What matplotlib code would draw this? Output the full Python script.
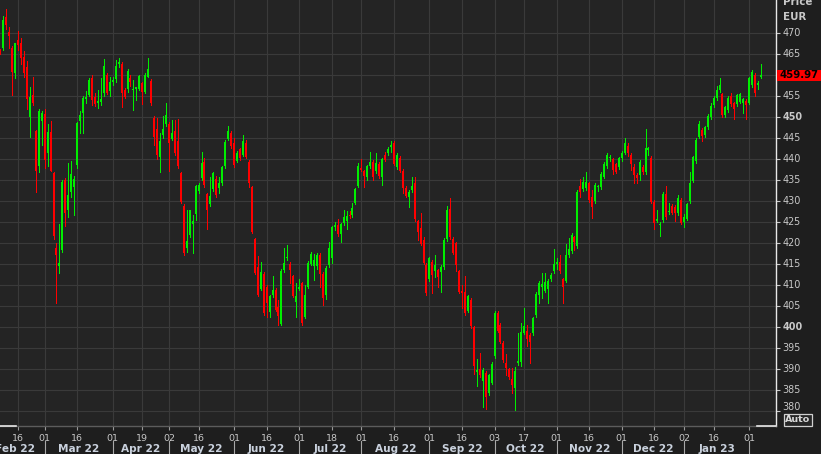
import numpy as np
import pandas as pd
import matplotlib
matplotlib.use('Agg')
import matplotlib.pyplot as plt
from matplotlib import transforms as mtransforms
from matplotlib.patches import Rectangle

# ---------------- data ----------------
start_date = '2022-02-08'
end_date = '2023-02-07'
holidays = ['2022-04-15', '2022-04-18', '2022-12-26']

open_ = [465.7, 466.6, 474.0, 470.2, 466.6, 460.6, 468.4, 467.6, 464.4, 461.9,
         450.0, 455.3, 446.7, 438.4, 449.2, 450.9, 441.4, 446.6, 436.7, 419.0,
         414.7, 418.4, 435.1, 427.9, 432.1, 433.5, 438.7, 449.2, 451.0, 454.4,
         455.2, 459.4, 454.8, 453.5, 453.7, 455.7, 460.1, 456.3, 458.5, 459.1,
         462.6, 462.7, 456.5, 456.7, 459.4, 456.5, 456.8, 456.7, 458.1, 456.1,
         459.7, 458.7, 449.9, 447.2, 440.6, 445.8, 448.4, 448.4, 444.9, 446.7,
         444.4, 436.7, 428.9, 418.8, 422.0, 424.6, 427.0, 432.5, 435.5, 439.4,
         431.7, 429.4, 432.9, 435.2, 433.1, 434.4, 438.4, 444.8, 446.3, 444.0,
         439.7, 442.4, 441.0, 443.9, 439.4, 433.3, 421.0, 414.4, 409.2, 412.8,
         409.7, 403.7, 407.7, 409.0, 404.9, 400.9, 413.6, 416.4, 415.1, 412.2,
         406.1, 409.2, 410.5, 402.5, 409.7, 415.1, 414.6, 414.5, 417.2, 412.8,
         407.7, 414.8, 416.4, 423.8, 424.4, 422.2, 424.8, 425.2, 426.6, 426.7,
         429.7, 433.7, 438.0, 437.1, 435.7, 438.3, 439.4, 437.1, 439.0, 435.9,
         441.0, 441.4, 443.0, 443.8, 438.2, 440.4, 437.2, 433.2, 431.1, 432.7,
         434.3, 425.2, 423.6, 420.8, 414.8, 411.4, 415.6, 413.5, 413.6, 413.2,
         414.4, 421.0, 428.2, 421.0, 420.0, 413.3, 408.7, 408.5, 404.0, 406.5,
         400.0, 389.4, 390.0, 387.3, 389.2, 384.3, 386.8, 393.2, 403.5, 400.6,
         396.3, 391.6, 390.0, 387.8, 385.6, 391.5, 391.8, 398.7, 399.2, 398.2,
         398.6, 402.9, 407.7, 409.7, 408.7, 409.1, 411.4, 413.4, 415.1, 415.5,
         411.4, 411.1, 417.2, 418.2, 421.4, 419.4, 433.6, 432.9, 433.1, 434.3,
         431.1, 430.1, 433.3, 433.3, 435.9, 438.4, 440.2, 440.0, 439.0, 438.1,
         440.2, 441.6, 443.2, 441.0, 438.2, 436.3, 436.3, 438.2, 437.0, 442.3,
         440.4, 429.9, 425.4, 424.4, 425.5, 431.7, 427.4, 428.9, 428.7, 427.1,
         430.3, 425.0, 425.9, 430.1, 434.9, 439.7, 445.4, 447.0, 445.8, 447.6,
         450.1, 452.9, 454.5, 456.5, 455.5, 450.5, 451.7, 455.0, 453.3, 453.2,
         453.7, 453.5, 453.9, 453.5, 457.7, 460.1, 457.7, 459.5]

high = [466.2, 474.1, 475.7, 471.5, 467.0, 467.8, 470.6, 469.0, 465.8, 463.5,
        457.3, 459.5, 447.0, 452.0, 451.5, 451.9, 448.5, 449.2, 437.0, 420.0,
        424.6, 435.0, 435.5, 439.2, 439.6, 436.0, 449.0, 451.4, 455.0, 456.3,
        459.4, 460.0, 455.8, 456.6, 459.4, 463.8, 460.5, 459.7, 459.6, 463.6,
        464.1, 463.2, 457.0, 461.4, 460.0, 458.9, 457.1, 460.0, 458.5, 460.5,
        464.1, 459.2, 450.2, 449.8, 446.2, 450.2, 453.5, 449.0, 449.4, 449.4,
        449.5, 437.0, 429.3, 427.9, 428.0, 426.7, 434.0, 434.4, 441.8, 440.2,
        432.0, 435.9, 437.0, 436.0, 435.9, 438.5, 444.5, 447.9, 446.7, 445.0,
        442.0, 442.8, 445.8, 444.7, 439.8, 433.6, 421.3, 416.9, 415.6, 413.2,
        410.0, 407.8, 412.2, 409.3, 406.5, 413.8, 419.0, 419.6, 415.5, 412.5,
        410.5, 411.6, 410.8, 410.0, 415.8, 418.0, 417.4, 417.6, 417.6, 413.1,
        414.5, 420.2, 424.2, 425.0, 425.7, 424.9, 428.0, 427.6, 427.6, 429.5,
        433.2, 439.2, 440.0, 437.5, 438.7, 441.8, 439.8, 441.4, 439.4, 440.3,
        441.8, 443.0, 444.4, 444.4, 441.4, 440.8, 437.6, 433.6, 432.7, 435.7,
        435.7, 425.6, 427.1, 421.6, 415.2, 416.8, 416.0, 417.2, 414.0, 414.8,
        421.2, 428.9, 430.7, 421.4, 420.4, 413.7, 410.0, 412.3, 407.8, 406.9,
        400.3, 392.4, 394.0, 390.4, 389.6, 389.0, 391.8, 403.9, 404.0, 401.0,
        396.7, 393.6, 390.4, 390.2, 390.6, 398.6, 401.0, 404.7, 400.5, 398.6,
        402.5, 408.3, 411.0, 413.0, 413.0, 411.4, 412.9, 418.6, 416.6, 417.2,
        411.8, 419.8, 421.2, 422.4, 421.8, 432.7, 435.2, 435.9, 436.9, 434.7,
        432.7, 434.4, 434.0, 437.0, 439.4, 441.6, 441.0, 440.3, 439.2, 440.6,
        442.0, 445.0, 443.8, 441.4, 439.0, 436.7, 439.8, 438.6, 447.1, 443.0,
        440.8, 430.3, 427.9, 425.0, 432.1, 433.6, 429.7, 429.3, 429.1, 431.5,
        430.7, 427.0, 429.7, 437.0, 440.8, 445.0, 449.1, 447.4, 448.0, 450.7,
        453.5, 455.1, 457.5, 459.3, 455.9, 452.8, 455.1, 455.8, 453.7, 455.5,
        455.9, 454.7, 454.3, 459.7, 461.2, 460.5, 458.6, 462.8]

low = [465.0, 466.0, 471.0, 466.4, 455.3, 459.4, 466.0, 462.6, 459.7, 452.0,
       445.2, 453.0, 432.3, 437.0, 443.3, 438.0, 438.3, 437.1, 421.0, 405.8,
       413.0, 418.0, 424.1, 426.3, 431.0, 426.7, 438.0, 446.3, 446.3, 453.5,
       455.0, 453.0, 452.7, 452.2, 453.0, 455.0, 455.5, 455.0, 457.8, 458.5,
       462.0, 452.5, 454.5, 456.0, 457.5, 451.8, 454.1, 456.5, 453.1, 455.7,
       459.5, 453.0, 443.3, 440.0, 436.9, 445.0, 448.0, 437.1, 444.5, 441.0,
       438.0, 429.5, 417.3, 418.0, 421.5, 417.6, 425.5, 432.0, 435.0, 433.5,
       423.4, 429.0, 432.5, 431.0, 432.0, 434.0, 438.0, 444.5, 442.6, 438.2,
       439.3, 439.8, 440.7, 440.2, 433.5, 422.5, 412.7, 407.5, 408.8, 403.0,
       402.5, 402.5, 407.3, 403.8, 400.5, 400.6, 413.2, 416.0, 410.5, 407.2,
       402.5, 408.8, 400.5, 402.2, 409.3, 414.8, 411.3, 414.0, 409.7, 405.3,
       406.7, 414.4, 415.2, 423.2, 421.8, 420.2, 424.4, 423.3, 426.0, 426.3,
       429.3, 433.3, 437.3, 433.5, 435.0, 438.0, 435.0, 436.8, 435.6, 433.9,
       439.5, 441.0, 441.8, 438.6, 437.6, 437.0, 431.9, 431.0, 428.6, 432.3,
       425.4, 420.8, 419.5, 415.0, 407.8, 411.0, 408.2, 412.0, 409.7, 408.5,
       414.0, 420.6, 421.0, 417.4, 413.3, 408.2, 404.6, 403.0, 403.6, 399.8,
       389.0, 386.0, 388.2, 381.1, 380.5, 383.9, 386.4, 392.8, 398.8, 396.2,
       391.7, 388.6, 387.7, 384.3, 380.3, 391.0, 390.8, 398.3, 395.5, 391.4,
       398.2, 402.5, 405.9, 406.9, 408.3, 405.9, 411.0, 413.0, 414.0, 413.0,
       405.9, 410.7, 416.8, 417.8, 418.4, 419.0, 431.0, 432.5, 432.7, 429.8,
       426.0, 429.5, 432.5, 433.0, 435.5, 438.0, 439.6, 436.6, 436.7, 437.7,
       439.5, 441.2, 440.9, 437.4, 434.4, 434.3, 435.0, 436.6, 436.6, 441.0,
       429.5, 423.3, 425.0, 421.7, 425.1, 425.9, 427.0, 426.9, 425.4, 426.7,
       424.5, 424.0, 425.5, 429.7, 434.5, 439.1, 445.0, 444.4, 445.4, 447.2,
       449.7, 452.5, 454.1, 456.1, 450.1, 450.1, 451.3, 452.8, 449.7, 452.8,
       453.3, 451.1, 449.7, 453.1, 457.3, 455.0, 456.7, 459.3]

close = [465.3, 473.2, 472.0, 469.4, 460.9, 467.6, 467.2, 464.2, 460.6, 454.4,
         454.9, 453.5, 437.1, 451.5, 451.1, 439.9, 446.6, 437.3, 421.8, 417.2,
         415.4, 434.6, 427.3, 431.5, 436.5, 435.3, 448.6, 450.6, 454.6, 454.9,
         458.9, 454.1, 453.2, 453.9, 454.4, 462.2, 455.9, 458.5, 459.0, 462.3,
         463.2, 455.9, 454.9, 461.1, 458.3, 456.7, 457.0, 459.8, 456.1, 460.1,
         461.4, 453.3, 445.2, 441.0, 444.4, 447.3, 450.5, 443.8, 446.3, 441.4,
         438.3, 429.9, 417.6, 420.6, 427.9, 425.2, 433.7, 433.9, 439.2, 433.9,
         427.9, 431.3, 436.7, 431.5, 434.4, 438.1, 444.1, 446.7, 443.2, 438.6,
         441.6, 440.2, 444.4, 440.5, 434.4, 422.8, 412.9, 407.7, 413.2, 403.3,
         405.7, 407.4, 408.9, 404.1, 402.7, 413.4, 415.4, 416.8, 413.6, 407.5,
         407.5, 409.7, 401.0, 407.7, 415.4, 417.4, 416.0, 417.3, 412.8, 406.9,
         414.2, 419.0, 423.8, 424.4, 422.2, 424.6, 426.2, 426.5, 426.4, 428.3,
         432.9, 438.4, 437.5, 436.0, 438.4, 439.4, 435.7, 439.2, 436.0, 440.0,
         439.8, 442.4, 443.2, 439.0, 441.0, 437.3, 433.1, 431.3, 432.3, 433.6,
         425.7, 422.8, 419.8, 415.4, 408.1, 416.4, 412.5, 414.8, 412.0, 414.4,
         420.8, 427.9, 421.4, 417.8, 414.8, 408.5, 408.1, 403.3, 407.5, 400.2,
         390.8, 389.8, 388.6, 389.8, 383.3, 388.6, 391.3, 403.5, 399.2, 396.6,
         392.1, 390.2, 388.1, 386.3, 389.7, 391.9, 399.0, 400.3, 397.3, 396.6,
         402.1, 407.9, 410.6, 410.3, 410.9, 411.0, 412.5, 415.1, 415.6, 413.3,
         409.7, 417.2, 418.6, 422.0, 420.4, 432.3, 432.3, 434.7, 434.7, 430.2,
         428.6, 433.9, 433.6, 436.5, 439.0, 441.0, 440.6, 437.4, 437.0, 440.2,
         441.4, 444.0, 441.4, 439.0, 436.3, 435.5, 439.4, 437.0, 442.6, 442.8,
         429.9, 424.9, 425.9, 424.6, 431.7, 426.3, 427.6, 427.3, 427.1, 430.7,
         424.9, 426.2, 429.3, 434.4, 440.5, 444.6, 448.4, 445.5, 447.6, 450.3,
         452.7, 454.7, 456.5, 457.7, 450.5, 452.4, 454.7, 453.2, 451.9, 455.3,
         455.5, 454.3, 452.9, 459.3, 460.8, 455.8, 458.2, 459.97]

tick_dates = ['2022-02-16', '2022-03-01', '2022-03-16', '2022-04-01', '2022-04-19',
              '2022-05-02', '2022-05-16', '2022-06-01', '2022-06-16', '2022-07-01',
              '2022-07-18', '2022-08-01', '2022-08-16', '2022-09-01', '2022-09-16',
              '2022-10-03', '2022-10-17', '2022-11-01', '2022-11-16', '2022-12-01',
              '2022-12-16', '2023-01-02', '2023-01-16', '2023-02-01']
tick_labels = ['16', '01', '16', '01', '19', '02', '16', '01', '16', '01', '18', '01',
               '16', '01', '16', '03', '17', '01', '16', '01', '16', '02', '16', '01']
month_starts = ['2022-02-01', '2022-03-01', '2022-04-01', '2022-05-02', '2022-06-01',
                '2022-07-01', '2022-08-01', '2022-09-01', '2022-10-03', '2022-11-01',
                '2022-12-01', '2023-01-02', '2023-02-01', '2023-03-01']
month_labels = ['Feb 22', 'Mar 22', 'Apr 22', 'May 22', 'Jun 22', 'Jul 22', 'Aug 22',
                'Sep 22', 'Oct 22', 'Nov 22', 'Dec 22', 'Jan 23', 'Feb 23']
y_ticks = list(range(380, 475, 5))
bold_ticks = [400, 450]

# ---------------- figure ----------------
W, H = 821, 454
fig = plt.figure(figsize=(W / 100, H / 100), dpi=100)
fig.set_facecolor('#1e1e1e')
ax = fig.add_axes([0, 28 / H, 776 / W, 426 / H])
ax.set_facecolor('#242424')

ext_cal = pd.bdate_range('2022-02-01', '2023-03-31', freq='C', holidays=holidays)
offset = ext_cal.get_loc(pd.Timestamp(start_date))
def pos(d):
    return ext_cal.get_loc(pd.Timestamp(d)) - offset

o = np.array(open_); h = np.array(high); l = np.array(low); c = np.array(close)
x = np.arange(len(c))
up = c >= o
cols = np.where(up, '#00ee00', '#ff0000')
hh = np.maximum(h, np.maximum(o, c))
ll = np.minimum(l, np.minimum(o, c))
b0 = np.minimum(o, c)
b1 = np.maximum(np.maximum(o, c), b0 + 0.3)
ax.vlines(x, ll, hh, colors=cols, linewidth=0.72, antialiased=False, zorder=3)
ax.vlines(x, b0, b1, colors=cols, linewidth=1.44, antialiased=False, zorder=4,
          capstyle='butt')

ax.set_xlim(-0.08, 262.08)
ax.set_ylim(376.5, 477.93)

# grid
tick_pos = [pos(d) for d in tick_dates]
ax.set_xticks(tick_pos)
ax.set_xticklabels(tick_labels)
ax.set_yticks(y_ticks)
ax.grid(True, color='#3a3a3a', linewidth=0.8, zorder=0)
ax.set_axisbelow(True)

for s in ['left', 'top']:
    ax.spines[s].set_visible(False)
ax.spines['right'].set_color('#e8e8e8')
ax.spines['right'].set_linewidth(1.0)
ax.spines['bottom'].set_color('#5c5c5c')
ax.spines['bottom'].set_linewidth(1.0)
ax.plot([0, 16 / 776], [0, 0], transform=ax.transAxes, color='#e8e8e8', lw=1.2, clip_on=False, zorder=6)
ax.plot([757 / 776, 1], [0, 0], transform=ax.transAxes, color='#e8e8e8', lw=1.2, clip_on=False, zorder=6)

ax.tick_params(axis='x', length=3, width=0.8, color='#9a9a9a', labelcolor='#c8c8c8',
               labelsize=6.8, pad=2.5)
ax.yaxis.tick_right()
ax.tick_params(axis='y', length=3, width=0.8, color='#c8c8c8', labelright=False,
               labelleft=False, direction='out')

# y labels (manual, right side); the one under the last-price box is hidden by it
last_price = close[-1]
ytrans = mtransforms.blended_transform_factory(ax.transAxes, ax.transData)
for v in y_ticks:
    if abs(v - last_price) < 2.0:
        continue
    dy = 4 if v == 380 else 0
    t = ytrans + mtransforms.ScaledTranslation(6.5 / 100, dy / 100, fig.dpi_scale_trans)
    ax.text(1, v, str(v), transform=t, ha='left', va='center', fontsize=6.9,
            color='#c8c8c8', fontweight='bold' if v in bold_ticks else 'normal',
            clip_on=False)

# month labels and separators
mtrans = mtransforms.blended_transform_factory(ax.transData, fig.transFigure)
ms = [pos(d) for d in month_starts]
xmax = ax.get_xlim()[1]
for i, lab in enumerate(month_labels):
    a, b = ms[i], ms[i + 1]
    center = (a + b) / 2.0
    if center < xmax - 3:
        ax.text(center, 5 / H, lab, transform=mtrans, ha='center', va='center',
                fontsize=7.6, fontweight='bold', color='#c9d1dd', clip_on=False)
for p in ms[1:]:
    if p < xmax:
        ax.plot([p, p], [0, 13 / H], transform=mtrans, color='#a8a8a8', lw=0.8,
                clip_on=False)

# header labels
fig.text(783 / W, 1 - 5 / H, 'Price', ha='left', va='baseline', fontsize=7.4,
         fontweight='bold', color='#c8c8c8')
fig.text(783 / W, 1 - 19.5 / H, 'EUR', ha='left', va='baseline', fontsize=7.4,
         fontweight='bold', color='#c8c8c8')

# last price box
fig.canvas.draw()
yd = ax.transData.transform((0, last_price))[1]
fig.patches.append(Rectangle((777 / W, (yd - 5.5) / H), 44 / W, 11 / H,
                             transform=fig.transFigure, facecolor='#ff0000',
                             edgecolor='none', zorder=5))
fig.text(799 / W, yd / H, f'{last_price:.2f}', ha='center', va='center', fontsize=7.3,
         fontweight='bold', color='#000000', zorder=6)

# Auto box
fig.patches.append(Rectangle((784 / W, 28 / H), 28 / W, 12 / H, transform=fig.transFigure,
                             facecolor='#262626', edgecolor='#d0d0d0', linewidth=0.9))
fig.text(798 / W, 34 / H, 'Auto', ha='center', va='center', fontsize=6.8,
         fontweight='bold', color='#d8d8d8')

fig.savefig('out.png', dpi=100, facecolor=fig.get_facecolor())
